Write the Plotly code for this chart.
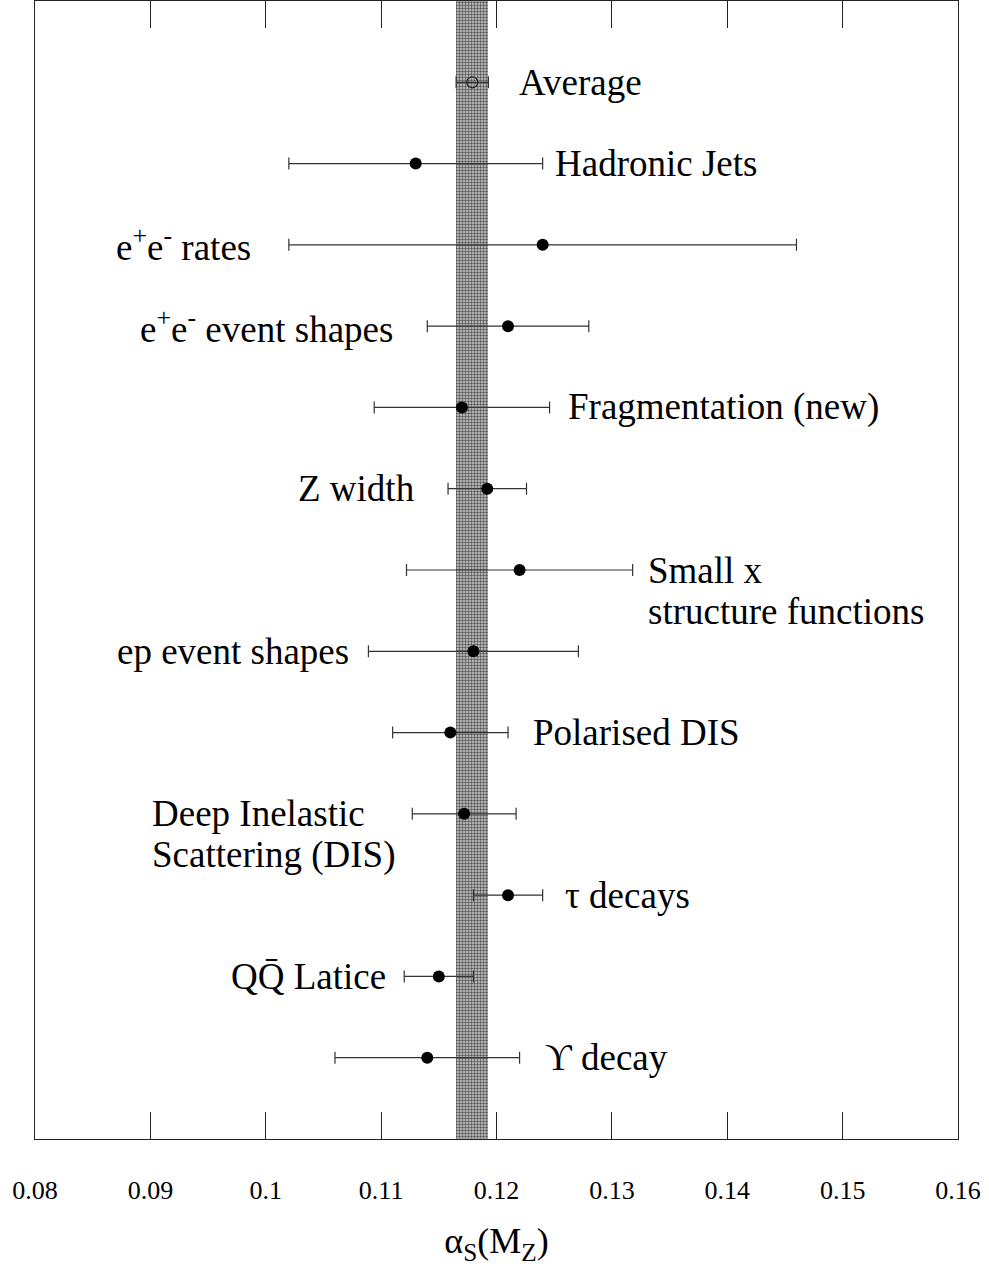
import plotly.graph_objects as go

# ---- data ----
measurements = ["Average", "Hadronic Jets", "e+e- rates", "e+e- event shapes",
                "Fragmentation (new)", "Z width", "Small x structure functions",
                "ep event shapes", "Polarised DIS", "Deep Inelastic Scattering (DIS)",
                "tau decays", "QQbar Latice", "Upsilon decay"]
alpha_s = [0.1179, 0.113, 0.124, 0.121, 0.117, 0.1192, 0.122, 0.118, 0.116, 0.1172, 0.121, 0.115, 0.114]
err_minus = [0.0014, 0.011, 0.022, 0.007, 0.0076, 0.0034, 0.0098, 0.0091, 0.005, 0.0045, 0.003, 0.003, 0.008]
err_plus = [0.0014, 0.011, 0.022, 0.007, 0.0076, 0.0034, 0.0098, 0.0091, 0.005, 0.0045, 0.003, 0.003, 0.008]

label_lines = [["Average"], ["Hadronic Jets"], ["e<sup>+</sup>e<sup>-</sup> rates"],
               ["e<sup>+</sup>e<sup>-</sup> event shapes"], ["Fragmentation (new)"], ["Z width"],
               ["Small x", "structure functions"], ["ep event shapes"], ["Polarised DIS"],
               ["Deep Inelastic", "Scattering (DIS)"], ["\u03c4 decays"], ["QQ\u0304 Latice"],
               ["\u03d2 decay"]]
label_x = [0.1218, 0.1249, 0.0989, 0.1112, 0.1260, 0.1131, 0.1330, 0.1074, 0.1230, 0.0900, 0.1258, 0.1106, 0.1240]
label_side = ["left", "left", "right", "right", "left", "right", "left", "right", "left", "left", "left", "right", "left"]

x_ticks = [0.08, 0.09, 0.10, 0.11, 0.12, 0.13, 0.14, 0.15, 0.16]
x_tick_text = ["0.08", "0.09", "0.1", "0.11", "0.12", "0.13", "0.14", "0.15", "0.16"]

FONT = "Liberation Serif, Times New Roman, serif"
n = len(measurements)
ypos = list(range(n))

fig = go.Figure()

# average band
fig.add_trace(go.Bar(
    x=[alpha_s[0]], y=[n + 1], base=[-1],
    width=[err_minus[0] + err_plus[0]],
    marker=dict(color="#b0b0b0", line=dict(width=0),
                pattern=dict(shape=".", fgcolor="#555555", bgcolor="#cccccc",
                             size=3, solidity=0.5, fillmode="replace")),
    showlegend=False, hoverinfo="skip",
))

# measurements (filled dots)
fig.add_trace(go.Scatter(
    x=alpha_s[1:], y=ypos[1:], mode="markers",
    marker=dict(symbol="circle", size=12, color="#000000"),
    error_x=dict(type="data", symmetric=False, array=err_plus[1:], arrayminus=err_minus[1:],
                 color="#333333", thickness=1.2, width=6),
    showlegend=False,
))

# average (open circle)
fig.add_trace(go.Scatter(
    x=alpha_s[:1], y=ypos[:1], mode="markers",
    marker=dict(symbol="circle-open", size=11, color="#222222", line=dict(width=1.2)),
    error_x=dict(type="data", symmetric=False, array=err_plus[:1], arrayminus=err_minus[:1],
                 color="#333333", thickness=1.2, width=6),
    showlegend=False,
))

LINE_GAP = 41
for i, lines in enumerate(label_lines):
    for k, txt in enumerate(lines):
        fig.add_annotation(
            x=label_x[i], y=ypos[i], xref="x", yref="y",
            text=txt, showarrow=False,
            xanchor=label_side[i], yanchor="middle", align=label_side[i],
            yshift=-k * LINE_GAP,
            font=dict(family=FONT, size=37, color="#000000"),
        )

fig.update_layout(
    width=989, height=1270,
    margin=dict(l=35, r=31, t=1, b=131, autoexpand=False),
    paper_bgcolor="white", plot_bgcolor="white",
    bargap=0,
    xaxis=dict(
        range=[0.08, 0.16], tickmode="array", tickvals=x_ticks, ticktext=x_tick_text,
        ticks="inside", ticklen=27, tickwidth=1.2, tickcolor="#222222",
        showline=True, linecolor="#222222", linewidth=1.2, mirror="ticks",
        showgrid=False, zeroline=False, automargin=False,
        tickfont=dict(family=FONT, size=26, color="#000000"),
        ticklabelstandoff=28,
        title=dict(text="\u03b1<sub>S</sub>(M<sub>Z</sub>)",
                   font=dict(family=FONT, size=36, color="#000000"), standoff=23),
    ),
    yaxis=dict(
        range=[n, -1], showline=True, linecolor="#222222", linewidth=1.2, mirror=True,
        showticklabels=False, ticks="", showgrid=False, zeroline=False, automargin=False,
    ),
)

fig.write_html("out.html", config={"displayModeBar": False},
               post_script="document.body.style.margin='0px';document.body.style.overflow='hidden';")
